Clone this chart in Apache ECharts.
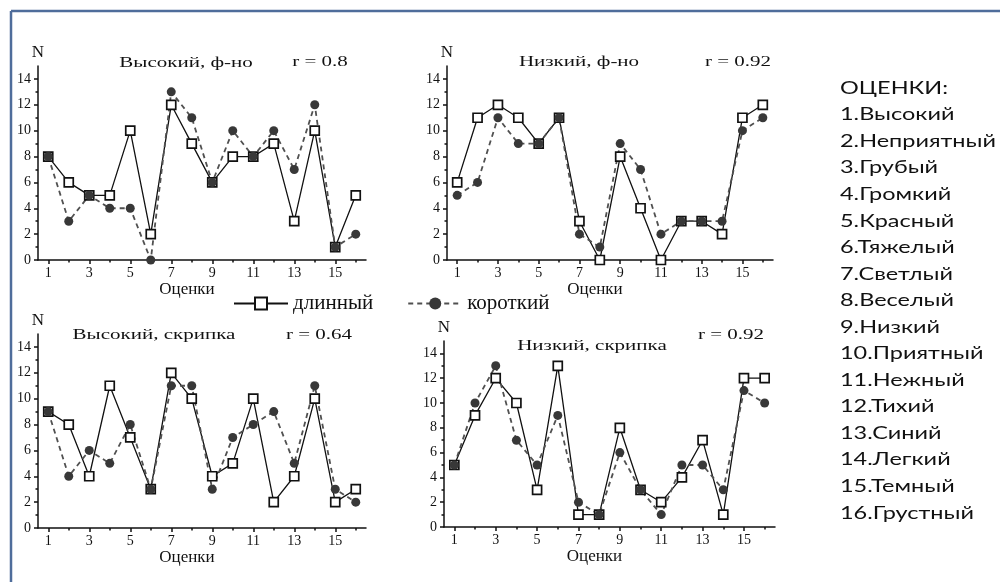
<!DOCTYPE html>
<html>
<head>
<meta charset="utf-8">
<script src="https://cdn.jsdelivr.net/npm/echarts@6/dist/echarts.min.js"></script>
<style>
  html, body { margin: 0; padding: 0; background: #ffffff; }
  #chart { width: 1000px; height: 582px; }
</style>
</head>
<body>
<div id="chart"></div>
<script>
// Rating words (x axis positions 1..16)
const ratings = ['Высокий', 'Неприятный', 'Грубый', 'Громкий', 'Красный', 'Тяжелый', 'Светлый', 'Веселый',
  'Низкий', 'Приятный', 'Нежный', 'Тихий', 'Синий', 'Легкий', 'Темный', 'Грустный'];
const ratingNumbers = [1, 2, 3, 4, 5, 6, 7, 8, 9, 10, 11, 12, 13, 14, 15, 16];

// Tick positions
const xLabelTicks = [1, 3, 5, 7, 9, 11, 13, 15];
const xMinorTicks = [2, 4, 6, 8, 10, 12, 14, 16];
const yLabelTicks = [0, 2, 4, 6, 8, 10, 12, 14];
const yMinorTicks = [1, 3, 5, 7, 9, 11, 13];

// Panel headings and correlation labels
const panelTitles = ['Высокий, ф-но', 'Низкий, ф-но', 'Высокий, скрипка', 'Низкий, скрипка'];
const panelR = ['r = 0.8', 'r = 0.92', 'r = 0.64', 'r = 0.92'];

const seriesNames = ['длинный', 'короткий'];

// Counts N per rating: long vs short sounds
const longHighPiano   = [8, 6, 5, 5, 10, 2, 12, 9, 6, 8, 8, 9, 3, 10, 1, 5];
const shortHighPiano  = [8, 3, 5, 4, 4, 0, 13, 11, 6, 10, 8, 10, 7, 12, 1, 2];
const longLowPiano    = [6, 11, 12, 11, 9, 11, 3, 0, 8, 4, 0, 3, 3, 2, 11, 12];
const shortLowPiano   = [5, 6, 11, 9, 9, 11, 2, 1, 9, 7, 2, 3, 3, 3, 10, 11];
const longHighViolin  = [9, 8, 4, 11, 7, 3, 12, 10, 4, 5, 10, 2, 4, 10, 2, 3];
const shortHighViolin = [9, 4, 6, 5, 8, 3, 11, 11, 3, 7, 8, 9, 5, 11, 3, 2];
const longLowViolin   = [5, 9, 12, 10, 3, 13, 1, 1, 8, 3, 2, 4, 7, 1, 12, 12];
const shortLowViolin  = [5, 10, 13, 7, 5, 9, 2, 1, 6, 3, 1, 5, 5, 3, 11, 10];

const panelData = [
  [longHighPiano, shortHighPiano],
  [longLowPiano, shortLowPiano],
  [longHighViolin, shortHighViolin],
  [longLowViolin, shortLowViolin]
];

// Layout of the four plot areas
const grids = [
  { left: 38,  top: 66,  width: 328, height: 194 },
  { left: 447, top: 66,  width: 326, height: 194 },
  { left: 38,  top: 334, width: 328, height: 194 },
  { left: 444, top: 341, width: 331, height: 186 }
];
const titlePos = [[186, 63], [579, 62], [154, 335], [592, 346]];
const rPos = [[320, 62], [738, 62], [319, 335], [731, 335]];

const serif = '"Liberation Serif", "Times New Roman", serif';
const ink = '#111111';

const xAxes = [], yAxes = [], series = [];
grids.forEach((g, i) => {
  // main axes with labels
  xAxes.push({
    type: 'value', gridIndex: i, min: 0.5, max: 16.5, position: 'bottom',
    name: 'Оценки', nameLocation: 'middle', nameGap: 18,
    nameTextStyle: { fontFamily: serif, fontSize: 17, color: ink, padding: [0, 30, 0, 0] },
    axisLine: { onZero: false, lineStyle: { color: ink, width: 1.5 } },
    axisTick: { show: true, length: 4, customValues: xLabelTicks, lineStyle: { color: ink, width: 1.5 } },
    axisLabel: { customValues: xLabelTicks, fontFamily: serif, fontSize: 14, color: ink, margin: 6 },
    splitLine: { show: false }
  });
  yAxes.push({
    type: 'value', gridIndex: i, min: 0, max: 15, position: 'left',
    name: 'N', nameLocation: 'end', nameGap: 5,
    nameTextStyle: { fontFamily: serif, fontSize: 17, color: ink, align: 'center' },
    axisLine: { onZero: false, lineStyle: { color: ink, width: 1.5 } },
    axisTick: { show: true, length: 4, customValues: yLabelTicks, lineStyle: { color: ink, width: 1.5 } },
    axisLabel: { customValues: yLabelTicks, fontFamily: serif, fontSize: 14, color: ink, margin: 7 },
    splitLine: { show: false }
  });
});
grids.forEach((g, i) => {
  // short minor ticks on companion axes
  xAxes.push({
    type: 'value', gridIndex: i, min: 0.5, max: 16.5, position: 'bottom', offset: 0,
    axisLine: { show: false },
    axisTick: { show: true, length: 2.5, customValues: xMinorTicks, lineStyle: { color: ink, width: 1.5 } },
    axisLabel: { show: false }, splitLine: { show: false }
  });
  yAxes.push({
    type: 'value', gridIndex: i, min: 0, max: 15, position: 'left', offset: 0,
    axisLine: { show: false },
    axisTick: { show: true, length: 2.5, customValues: yMinorTicks, lineStyle: { color: ink, width: 1.5 } },
    axisLabel: { show: false }, splitLine: { show: false }
  });
});

panelData.forEach((pair, i) => {
  series.push({
    name: seriesNames[0], type: 'line', xAxisIndex: i, yAxisIndex: i,
    data: ratingNumbers.map((x, k) => [x, pair[0][k]]),
    symbol: 'rect', symbolSize: 9,
    itemStyle: { color: '#ffffff', borderColor: ink, borderWidth: 1.7 },
    lineStyle: { color: ink, width: 1.3, type: 'solid' },
    emphasis: { disabled: true }, animation: false
  });
  series.push({
    name: seriesNames[1], type: 'line', xAxisIndex: i, yAxisIndex: i,
    data: ratingNumbers.map((x, k) => [x, pair[1][k]]),
    symbol: 'circle', symbolSize: 9,
    itemStyle: { color: '#383838', borderWidth: 0 },
    lineStyle: { color: '#505050', width: 1.8, type: [5, 4] },
    emphasis: { disabled: true }, animation: false
  });
});

// Headings, correlation labels, rating list and frame
const graphics = [];
panelTitles.forEach((t, i) => {
  graphics.push({
    type: 'text', x: titlePos[i][0], y: titlePos[i][1], scaleX: 1.4, silent: true,
    style: { text: t, font: '15px ' + serif, fill: ink, textAlign: 'center', textVerticalAlign: 'middle', align: 'center', verticalAlign: 'middle' }
  });
  graphics.push({
    type: 'text', x: rPos[i][0], y: rPos[i][1], scaleX: 1.4, silent: true,
    style: { text: panelR[i], font: '15px ' + serif, fill: ink, textAlign: 'center', textVerticalAlign: 'middle', align: 'center', verticalAlign: 'middle' }
  });
});
const listText = ['ОЦЕНКИ:'].concat(ratings.map((r, k) => (k + 1) + '.' + r)).join('\n');
graphics.push({
  type: 'text', x: 840, y: 75, scaleX: 1.38, silent: true,
  style: { text: listText, font: '17px Lato, "Open Sans", sans-serif', fill: ink, lineHeight: 26.55,
    textAlign: 'left', textVerticalAlign: 'top', align: 'left', verticalAlign: 'top' }
});
graphics.push({ type: 'line', silent: true, shape: { x1: 11, y1: 11, x2: 1000, y2: 11 }, style: { stroke: '#4f6d9b', lineWidth: 2.5 } });
graphics.push({ type: 'line', silent: true, shape: { x1: 11, y1: 11, x2: 11, y2: 582 }, style: { stroke: '#4f6d9b', lineWidth: 2.5 } });

const chart = echarts.init(document.getElementById('chart'), null, { renderer: 'canvas' });
chart.setOption({
  backgroundColor: '#ffffff',
  animation: false,
  grid: grids,
  xAxis: xAxes,
  yAxis: yAxes,
  legend: {
    data: seriesNames, left: 228, top: 288, itemWidth: 54, itemHeight: 15, itemGap: 34,
    textStyle: { fontFamily: serif, fontSize: 21, color: ink },
    selectedMode: false
  },
  graphic: graphics,
  series: series
});
</script>
</body>
</html>
